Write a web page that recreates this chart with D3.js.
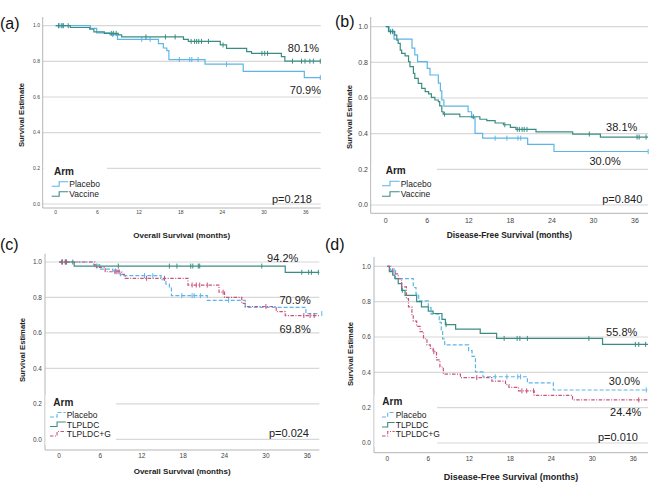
<!DOCTYPE html>
<html>
<head>
<meta charset="utf-8">
<script src="https://cdn.jsdelivr.net/npm/d3@7"></script>
<style>
  body { margin: 0; background: #fff; }
  svg { display: block; font-family: 'Liberation Sans', Arial, sans-serif; }
</style>
</head>
<body>
<div id="chart"></div>
<script>
// ---- data ----
const monthTicks = [0, 6, 12, 18, 24, 30, 36];
const survTicks = [0, 0.2, 0.4, 0.6, 0.8, 1.0];
const armsAB = ['Placebo', 'Vaccine'];
const armsCD = ['Placebo', 'TLPLDC', 'TLPLDC+G'];

// overall survival, placebo (used in a and c)
const osPlacebo = [[0,1],[5.0,0.985],[5.9,0.96],[7.8,0.95],[8.9,0.923],[14.8,0.90],[15.5,0.875],[16.0,0.86],[16.3,0.81],[21.5,0.784],[27.0,0.744],[35.8,0.709]];
const osPlaceboCens = [0.5,1.0,8.2,12.4,13.6,17.8,19.3,19.6,20.5,24.6,38.1];
// overall survival, vaccine (a)
const osVaccine = [[0,1],[2.1,0.99],[4.9,0.98],[5.5,0.965],[7.0,0.957],[9.0,0.948],[9.5,0.937],[18.4,0.923],[19.1,0.912],[23.7,0.892],[24.6,0.873],[27.5,0.855],[28.2,0.845],[32.5,0.826],[33.0,0.801]];
const osVaccineCens = [0.4,0.8,1.1,1.8,8.0,8.3,8.7,13.0,15.8,17.2,19.5,20.0,20.3,20.6,21.0,22.0,24.1,29.7,30.1,30.5,34.1,35.4,35.9,36.6,37.1,38.1];
// overall survival, TLPLDC (c)
const osTlpldc = [[0,1],[2.2,0.977],[32.8,0.942]];
const osTlpldcCens = [0.4,0.9,1.1,2.0,5.5,8.6,16.0,17.1,19.1,19.4,20.2,20.4,29.4,35.2,36.2,36.6,37.6];
// overall survival, TLPLDC+G (c)
const osTlpldcG = [[0,1],[5.2,0.97],[6.7,0.945],[9.1,0.93],[9.6,0.908],[18.7,0.87],[23.2,0.83],[24.0,0.80],[26.5,0.767],[27.0,0.749],[31.5,0.72],[32.8,0.698]];
const osTlpldcGCens = [0.5,1.0,8.1,8.4,8.7,12.7,15.3,19.3,19.9,20.4,21.5,23.8,30.0,35.5,36.4,37.0];

// disease-free survival, placebo (used in b and d)
const dfsPlacebo = [[0,1],[0.5,0.975],[1.2,0.93],[3.8,0.88],[4.2,0.842],[4.6,0.804],[6.0,0.766],[6.4,0.729],[7.6,0.683],[7.9,0.64],[8.1,0.589],[8.4,0.555],[11.9,0.523],[12.4,0.49],[12.9,0.402],[14.0,0.375],[20.5,0.34],[24.3,0.30]];
const dfsPlaceboCens = [1.0,15.8,17.5,19.1,19.5,37.9];
// disease-free survival, vaccine (b)
const dfsVaccine = [[0,1],[0.4,0.972],[1.3,0.953],[1.6,0.925],[1.8,0.907],[2.1,0.869],[2.3,0.85],[2.8,0.836],[3.3,0.804],[3.5,0.776],[4.0,0.738],[4.2,0.71],[4.7,0.682],[5.2,0.654],[5.7,0.636],[6.2,0.623],[6.6,0.604],[7.1,0.589],[7.6,0.58],[7.8,0.556],[8.1,0.523],[8.3,0.51],[10.7,0.495],[13.6,0.481],[14.6,0.473],[15.8,0.46],[17.0,0.45],[18.0,0.435],[18.8,0.424],[21.7,0.41],[27.0,0.398],[31.0,0.381]];
const dfsVaccineCens = [0.7,1.0,8.5,12.65,17.2,19.0,19.3,19.7,20.0,20.4,29.4,36.3,36.6,37.6];
// disease-free survival, TLPLDC (d)
const dfsTlpldc = [[0,1],[0.3,0.97],[0.8,0.95],[1.1,0.93],[1.6,0.902],[2.1,0.864],[2.6,0.835],[4.3,0.80],[5.0,0.77],[6.0,0.746],[6.7,0.733],[8.0,0.70],[8.5,0.67],[10.0,0.645],[13.6,0.62],[16.0,0.592],[31.5,0.558]];
const dfsTlpldcCens = [2.2,8.6,17.1,19.0,19.4,20.5,29.5,36.3,36.8,37.8];
// disease-free survival, TLPLDC+G (d)
const dfsTlpldcG = [[0,1],[0.3,0.985],[0.8,0.957],[1.6,0.93],[2.1,0.883],[2.8,0.817],[3.1,0.77],[3.6,0.72],[3.8,0.69],[4.3,0.66],[4.8,0.63],[5.3,0.59],[5.8,0.555],[6.3,0.536],[6.7,0.517],[7.2,0.47],[7.7,0.43],[8.2,0.39],[10.7,0.37],[15.3,0.35],[17.3,0.33],[17.8,0.315],[19.2,0.295],[21.5,0.27],[27.1,0.244]];
const dfsTlpldcGCens = [6.8,13.1,19.7,20.4,21.4,36.8];

// end-of-curve labels and p-values
const pctA = ['80.1%', '70.9%'];
const pctB = ['38.1%', '30.0%'];
const pctC = ['94.2%', '70.9%', '69.8%'];
const pctD = ['55.8%', '30.0%', '24.4%'];
const pValues = ['p=0.218', 'p=0.840', 'p=0.024', 'p=0.010'];
const xTitles = ['Overall Survival (months)', 'Disease-Free Survival (months)', 'Overall Survival (months)', 'Disease-Free Survival (months)'];

// ---- styles ----
const colPlacebo = '#5db6e8';
const colTeal = '#3b8d82';
const colPink = '#c9537e';

const width = 668, height = 484;
const svg = d3.select('#chart').append('svg')
  .attr('width', width)
  .attr('height', height);

const panels = [
  { label: '(a)', lx: 0, ly: 29, left: 42.7, top: 17, bottom: 208, x0: 55.7, x36: 305.7, right: 320.7, y1: 25.7, y0: 204,
    tickFont: 5, yTickX: 40, xTickY: 214, xTitle: xTitles[0], xTitleY: 238, xTitleSize: 8, yTitleX: 21, yTitleY: 115,
    legend: { box: [43.5, 165, 107, 200], armX: 54, armY: 175, sx: 51.7, tx: 69.3, rows: [187.3, 197.3] },
    series: [
      { name: armsAB[0], data: osPlacebo, cens: osPlaceboCens, color: colPlacebo, dash: null },
      { name: armsAB[1], data: osVaccine, cens: osVaccineCens, color: colTeal, dash: null }
    ],
    notes: [{ t: pctA[0], x: 319, y: 51.7 }, { t: pctA[1], x: 321, y: 94 }, { t: pValues[0], x: 312, y: 202.7 }] },
  { label: '(b)', lx: 335, ly: 27, left: 370.7, top: 17, bottom: 213.3, x0: 385.7, x36: 635, right: 648, y1: 26.7, y0: 205,
    tickFont: 7, yTickX: 368, xTickY: 223, xTitle: xTitles[1], xTitleY: 238, xTitleSize: 8.4, yTitleX: 349, yTitleY: 117,
    legend: { box: [371.5, 165, 437, 200], armX: 385.7, armY: 174, sx: 382, tx: 400.7, rows: [186.7, 197.3] },
    series: [
      { name: armsAB[0], data: dfsPlacebo, cens: dfsPlaceboCens, color: colPlacebo, dash: null },
      { name: armsAB[1], data: dfsVaccine, cens: dfsVaccineCens, color: colTeal, dash: null }
    ],
    notes: [{ t: pctB[0], x: 637.3, y: 130.7 }, { t: pctB[1], x: 620.7, y: 165 }, { t: pValues[1], x: 642.3, y: 203.3 }] },
  { label: '(c)', lx: 0, ly: 250, left: 45, top: 253.7, bottom: 450, x0: 59, x36: 307.3, right: 319.3, y1: 262, y0: 439.3,
    tickFont: 6.5, yTickX: 42, xTickY: 457.8, xTitle: xTitles[2], xTitleY: 473.5, xTitleSize: 8, yTitleX: 22, yTitleY: 350,
    legend: { box: [45.5, 395, 116, 445], armX: 53.3, armY: 406, sx: 50, tx: 66.7, rows: [418, 427.5, 437] },
    series: [
      { name: armsCD[0], data: osPlacebo, cens: osPlaceboCens, color: colPlacebo, dash: '4,2' },
      { name: armsCD[1], data: osTlpldc, cens: osTlpldcCens, color: colTeal, dash: null },
      { name: armsCD[2], data: osTlpldcG, cens: osTlpldcGCens, color: colPink, dash: '3.5,1.5,1,1.5' }
    ],
    notes: [{ t: pctC[0], x: 298.3, y: 262 }, { t: pctC[1], x: 310.7, y: 303.7 }, { t: pctC[2], x: 310.7, y: 332.7 }, { t: pValues[2], x: 309, y: 437 }] },
  { label: '(d)', lx: 325, ly: 250, left: 374, top: 257, bottom: 452.7, x0: 387.3, x36: 633.3, right: 648, y1: 266.3, y0: 443,
    tickFont: 6.5, yTickX: 371, xTickY: 461, xTitle: xTitles[3], xTitleY: 480, xTitleSize: 9, yTitleX: 350, yTitleY: 354,
    legend: { box: [374.5, 395, 437, 447], armX: 382.3, armY: 405.3, sx: 382, tx: 395.7, rows: [418, 428, 437] },
    series: [
      { name: armsCD[0], data: dfsPlacebo, cens: dfsPlaceboCens, color: colPlacebo, dash: '4,2' },
      { name: armsCD[1], data: dfsTlpldc, cens: dfsTlpldcCens, color: colTeal, dash: null },
      { name: armsCD[2], data: dfsTlpldcG, cens: dfsTlpldcGCens, color: colPink, dash: '3.5,1.5,1,1.5' }
    ],
    notes: [{ t: pctD[0], x: 637.3, y: 336 }, { t: pctD[1], x: 640, y: 385.3 }, { t: pctD[2], x: 641.3, y: 416 }, { t: pValues[3], x: 638, y: 441 }] }
];

// survival value at time t for a step curve
function survAt(data, t) {
  let v = data[0][1];
  data.forEach(d => { if (d[0] <= t) v = d[1]; });
  return v;
}

panels.forEach(p => {
  const x = d3.scaleLinear().domain([0, 36]).range([p.x0, p.x36]);
  const y = d3.scaleLinear().domain([0, 1]).range([p.y0, p.y1]);
  const endMonth = x.invert(p.right);
  const g = svg.append('g');

  // gridlines
  g.selectAll('.grid')
    .data(survTicks)
    .enter()
    .append('line')
    .attr('x1', p.left)
    .attr('x2', p.right)
    .attr('y1', d => y(d))
    .attr('y2', d => y(d))
    .attr('stroke', '#d8d8d8')
    .attr('stroke-width', 1.2);

  // axes frame
  g.append('line')
    .attr('x1', p.left).attr('x2', p.left)
    .attr('y1', p.top).attr('y2', p.bottom)
    .attr('stroke', '#b5b5b5').attr('stroke-width', 1);
  g.append('line')
    .attr('x1', p.left).attr('x2', p.right)
    .attr('y1', p.bottom).attr('y2', p.bottom)
    .attr('stroke', '#b5b5b5').attr('stroke-width', 1);

  // tick labels
  g.selectAll('.ytick')
    .data(survTicks)
    .enter()
    .append('text')
    .attr('x', p.yTickX)
    .attr('y', d => y(d))
    .attr('dy', '0.35em')
    .attr('text-anchor', 'end')
    .style('font-size', p.tickFont + 'px')
    .attr('fill', '#444')
    .text(d3.format('.1f'));
  g.selectAll('.xtick')
    .data(monthTicks)
    .enter()
    .append('text')
    .attr('x', d => x(d))
    .attr('y', p.xTickY)
    .attr('text-anchor', 'middle')
    .style('font-size', p.tickFont + 'px')
    .attr('fill', '#444')
    .text(d => d);

  // axis titles
  g.append('text')
    .attr('x', (p.left + p.right) / 2)
    .attr('y', p.xTitleY)
    .attr('text-anchor', 'middle')
    .style('font-size', p.xTitleSize + 'px')
    .style('font-weight', 'bold')
    .attr('fill', '#222')
    .text(p.xTitle);
  g.append('text')
    .attr('transform', `translate(${p.yTitleX},${p.yTitleY}) rotate(-90)`)
    .attr('dy', '0.35em')
    .attr('text-anchor', 'middle')
    .style('font-size', '7.7px')
    .style('font-weight', 'bold')
    .attr('fill', '#222')
    .text('Survival Estimate');

  // panel label
  svg.append('text')
    .attr('x', p.lx)
    .attr('y', p.ly)
    .style('font-size', '16px')
    .attr('fill', '#111')
    .text(p.label);

  // legend background hides the gridlines behind it
  const lg = p.legend;
  g.append('rect')
    .attr('x', lg.box[0]).attr('y', lg.box[1])
    .attr('width', lg.box[2] - lg.box[0]).attr('height', lg.box[3] - lg.box[1])
    .attr('fill', '#fff');

  // curves
  const line = d3.line()
    .x(d => x(d[0]))
    .y(d => y(d[1]))
    .curve(d3.curveStepAfter);

  p.series.forEach(s => {
    const pts = s.data.concat([[endMonth, s.data[s.data.length - 1][1]]]);
    g.append('path')
      .datum(pts)
      .attr('d', line)
      .attr('fill', 'none')
      .attr('stroke', s.color)
      .attr('stroke-width', 1.2)
      .attr('stroke-dasharray', s.dash);

    // censor marks
    g.selectAll(null)
      .data(s.cens)
      .enter()
      .append('line')
      .attr('x1', d => x(d)).attr('x2', d => x(d))
      .attr('y1', d => y(survAt(s.data, d)) - 2.5)
      .attr('y2', d => y(survAt(s.data, d)) + 2.5)
      .attr('stroke', s.color)
      .attr('stroke-width', 1);
  });

  // legend
  g.append('text')
    .attr('x', lg.armX)
    .attr('y', lg.armY)
    .style('font-size', '10px')
    .style('font-weight', 'bold')
    .attr('fill', '#222')
    .text('Arm');
  p.series.forEach((s, i) => {
    const by = lg.rows[i];
    const sx = lg.sx;
    const w = lg.tx - sx - 1;
    g.append('path')
      .attr('d', `M${sx},${by - 1}H${sx + w * 0.45}V${by - 5.5}H${sx + w}`)
      .attr('fill', 'none')
      .attr('stroke', s.color)
      .attr('stroke-width', 1.1)
      .attr('stroke-dasharray', s.dash);
    g.append('text')
      .attr('x', lg.tx)
      .attr('y', by)
      .style('font-size', '8.5px')
      .attr('fill', '#222')
      .text(s.name);
  });

  // end-of-curve percentages and p-value
  g.selectAll('.note')
    .data(p.notes)
    .enter()
    .append('text')
    .attr('x', d => d.x)
    .attr('y', d => d.y)
    .attr('text-anchor', 'end')
    .style('font-size', '11px')
    .attr('fill', '#222')
    .text(d => d.t);
});
</script>
</body>
</html>
